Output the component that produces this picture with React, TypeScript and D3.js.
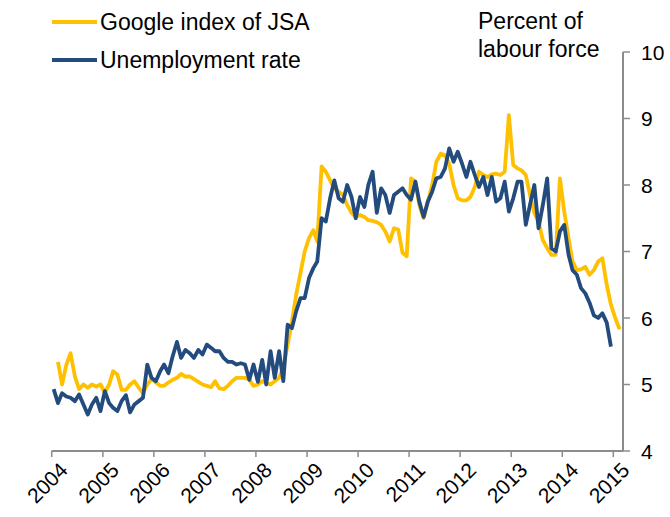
import React from "react";
import * as d3 from "d3";

// chart box
let sizing = { width: 670, height: 517, left: 51.7, right: 613.3, axisX: 623, top: 52, bottom: 451 };

// monthly values, Jan 2004 - Dec 2014
const unemployment = [
  4.93, 4.72, 4.87, 4.82, 4.8, 4.75, 4.85, 4.7, 4.55, 4.7, 4.8, 4.6,
  4.9, 4.72, 4.65, 4.6, 4.75, 4.84, 4.58, 4.7, 4.75, 4.8, 5.3, 5.1,
  5.05, 5.2, 5.3, 5.17, 5.42, 5.64, 5.4, 5.52, 5.47, 5.4, 5.52, 5.45,
  5.6, 5.55, 5.5, 5.5, 5.4, 5.34, 5.34, 5.3, 5.32, 5.3, 5.07, 5.3,
  5.04, 5.37, 5.0, 5.5, 5.1, 5.5, 5.05, 5.9, 5.85, 6.1, 6.3, 6.3,
  6.6, 6.75, 6.85, 7.5, 7.45, 7.8, 8.07, 7.8, 7.75, 8.0, 7.82, 7.5,
  7.82, 7.67, 8.0, 8.2, 7.58, 7.95, 7.85, 7.58, 7.85, 7.9, 7.95, 7.85,
  7.78, 8.05, 7.75, 7.52, 7.75, 7.9, 8.1, 8.12, 8.25, 8.55, 8.35, 8.5,
  8.32, 8.12, 8.35, 8.15, 7.97, 8.12, 7.85, 8.12, 7.75, 7.8, 8.05, 7.6,
  7.8, 8.05, 8.05, 7.4, 7.7, 8.0, 7.35, 7.7, 8.1, 7.05, 7.0, 7.3,
  7.4, 6.95, 6.72, 6.65, 6.45, 6.37, 6.23, 6.04, 6.0, 6.07, 5.93, 5.57
];

// monthly values, Feb 2004 - Feb 2015
const googleIndex = [
  5.34, 5.0, 5.3, 5.47, 5.12, 4.93, 5.0, 4.95, 5.0, 4.97, 5.0,
  4.88, 5.0, 5.2, 5.15, 4.92, 4.92, 5.0, 5.05, 4.95, 4.87, 5.0, 5.08,
  5.03, 4.98, 4.98, 5.03, 5.07, 5.1, 5.16, 5.12, 5.12, 5.08, 5.04, 5.0,
  4.98, 4.96, 5.05, 4.94, 4.93, 4.98, 5.05, 5.1, 5.1, 5.1, 5.07, 4.98,
  5.0, 5.05, 5.02, 5.0, 5.05, 5.1, 5.25, 5.6, 5.95, 6.35, 6.68, 7.0,
  7.2, 7.32, 7.15, 8.28, 8.2, 8.07, 7.95, 7.9, 7.85, 7.7, 7.58, 7.52,
  7.55, 7.52, 7.47, 7.46, 7.44, 7.4, 7.3, 7.15, 7.35, 7.33, 6.98, 6.93,
  8.1, 8.05, 7.7, 7.5, 7.75, 8.0, 8.35, 8.47, 8.45, 8.32, 8.0, 7.8,
  7.77, 7.77, 7.82, 7.97, 8.2, 8.15, 8.12, 8.16, 8.17, 8.15, 8.2, 9.05,
  8.3, 8.25, 8.22, 8.15, 7.85, 7.58, 7.45, 7.17, 7.05, 6.95, 6.95, 8.1,
  7.6, 7.2, 6.85, 6.72, 6.73, 6.77, 6.65, 6.72, 6.85, 6.9, 6.5, 6.2,
  6.0, 5.83
];

const years = d3.range(2004, 2016);
const yTicks = [4, 5, 6, 7, 8, 9, 10];

const seriesNames = ["Google index of JSA", "Unemployment rate"];
const seriesColors = ["#FFC000", "#234B7D"];

let font = "'Liberation Sans', Arial, sans-serif";

function App() {
  const x = d3
    .scaleTime()
    .domain([new Date(2004, 0, 1), new Date(2015, 0, 1)])
    .range([sizing.left, sizing.right]);

  const y = d3.scaleLinear().domain([4, 10]).range([sizing.bottom, sizing.top]);

  const line = d3
    .line<[Date, number]>()
    .x(d => x(d[0]))
    .y(d => y(d[1]));

  let blueData: [Date, number][] = unemployment.map((v, i) => [new Date(2004, i, 15), v]);
  let yellowData: [Date, number][] = googleIndex.map((v, i) => [new Date(2004, i + 1, 15), v]);

  let axisColor = "#8C8C8C";

  let xTicks = years.map(yr => {
    let px = x(new Date(yr, 0, 1));
    return (
      <g key={`xt${yr}`}>
        <line x1={px} x2={px} y1={sizing.bottom} y2={sizing.bottom + 6} stroke={axisColor} strokeWidth={1.5} />
        <text
          transform={`translate(${px + 7},${sizing.bottom + 10}) rotate(-45)`}
          textAnchor="end"
          dy="0.7em"
          style={{ fontFamily: font, fontSize: "21px" }}
        >
          {yr}
        </text>
      </g>
    );
  });

  let yTickMarks = yTicks.map(t => (
    <g key={`yt${t}`}>
      <line x1={sizing.axisX} x2={sizing.axisX + 7} y1={y(t)} y2={y(t)} stroke={axisColor} strokeWidth={1.5} />
      <text x={sizing.axisX + 18} y={y(t)} dy="0.36em" style={{ fontFamily: font, fontSize: "21px" }}>
        {t}
      </text>
    </g>
  ));

  let legend = seriesNames.map((name, i) => (
    <g key={`lg${i}`}>
      <line x1={52} x2={97} y1={22 + i * 38} y2={22 + i * 38} stroke={seriesColors[i]} strokeWidth={4} />
      <text x={100} y={22 + i * 38} dy="0.36em" style={{ fontFamily: font, fontSize: "23px" }}>
        {name}
      </text>
    </g>
  ));

  return (
    <svg
      width={sizing.width}
      height={sizing.height}
      style={{ position: "absolute", left: 0, top: 0, background: "white" }}
    >
      <path d={line(yellowData) || ""} fill="none" stroke={seriesColors[0]} strokeWidth={3.8} strokeLinejoin="round" />
      <path d={line(blueData) || ""} fill="none" stroke={seriesColors[1]} strokeWidth={3.8} strokeLinejoin="round" />

      <line x1={sizing.left} x2={sizing.axisX} y1={sizing.bottom} y2={sizing.bottom} stroke={axisColor} strokeWidth={2} />
      <line x1={sizing.axisX} x2={sizing.axisX} y1={sizing.top} y2={sizing.bottom} stroke={axisColor} strokeWidth={2} />
      {xTicks}
      {yTickMarks}
      {legend}

      <text x={478} y={29} style={{ fontFamily: font, fontSize: "23px" }}>Percent of</text>
      <text x={478} y={57} style={{ fontFamily: font, fontSize: "23px" }}>labour force</text>
    </svg>
  );
}

export default App;
